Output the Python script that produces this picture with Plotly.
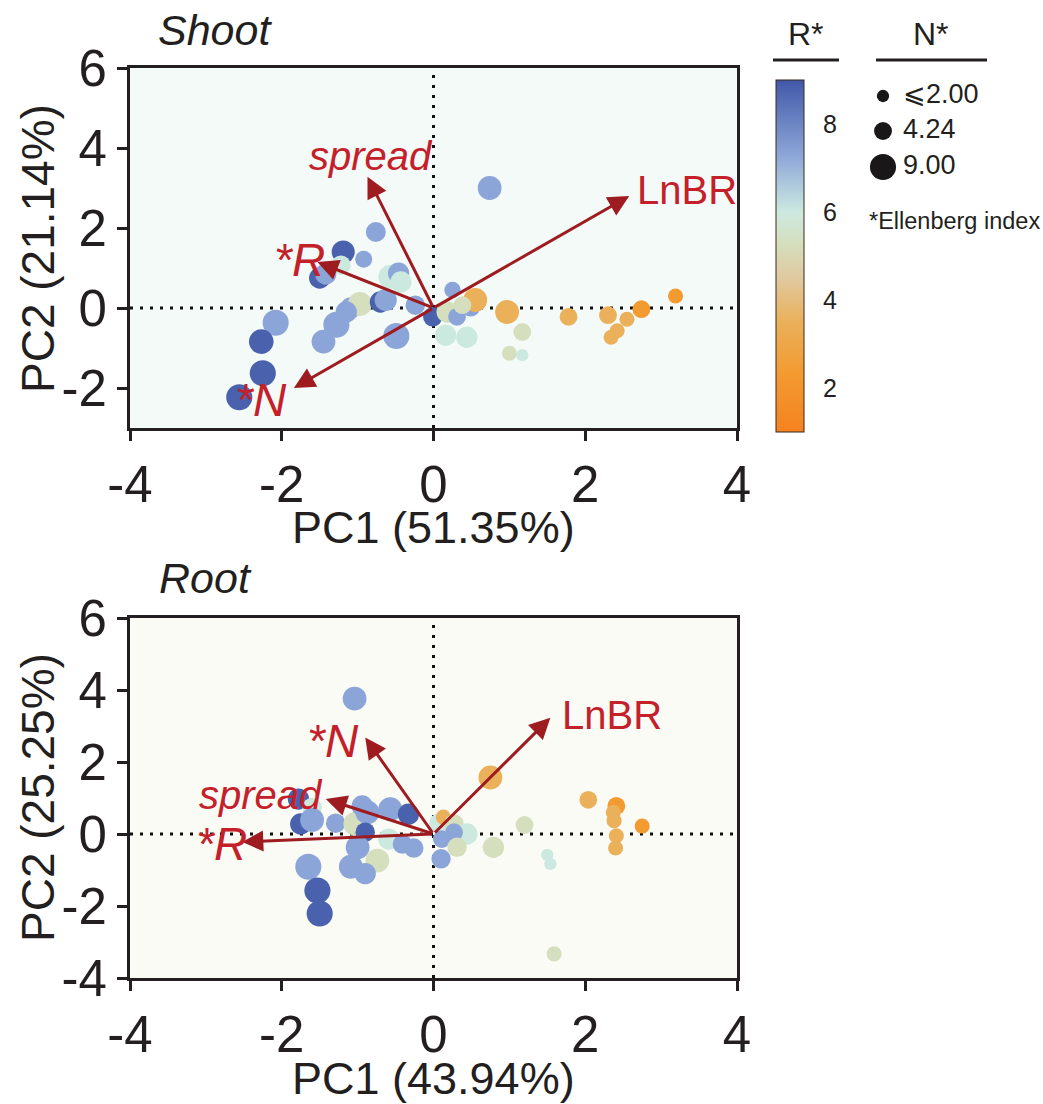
import numpy as np
import plotly.graph_objects as go

# ---------------- data ----------------
# Shoot PCA scores
shoot_pc1 = [-0.76, -1.19, -0.92, -1.22, -1.50, -1.42, -0.57, -0.46, -0.43, -1.09, -0.97,
             -0.70, -0.63, -0.24, -0.01, -2.08, -2.27, -2.25, -2.56, -1.28, -1.45, -0.49,
             -1.15, 0.16, 0.18, 0.25, 0.74, 0.49, 0.55, 0.31, 0.38, 0.44, 0.97, 1.17,
             1.00, 1.17, 1.78, 2.30, 2.55, 2.42, 2.34, 2.74, 3.19]
shoot_pc2 = [1.90, 1.40, 1.22, 1.07, 0.75, 0.85, 0.78, 0.87, 0.65, 0.00, 0.10,
             0.15, 0.20, 0.07, -0.22, -0.37, -0.84, -1.63, -2.23, -0.42, -0.84, -0.70,
             -0.10, -0.68, -0.10, 0.45, 3.00, 0.03, 0.20, -0.22, 0.07, -0.73, -0.10, -0.60,
             -1.13, -1.18, -0.22, -0.18, -0.28, -0.57, -0.73, -0.03, 0.30]
shoot_R = [7.3, 8.8, 7.3, 6.0, 8.8, 7.3, 6.0, 7.3, 6.0, 7.3, 5.3,
           8.8, 7.3, 7.3, 8.8, 7.3, 8.8, 8.8, 8.8, 7.3, 7.3, 7.3,
           7.3, 6.0, 5.3, 7.3, 7.3, 7.3, 3.5, 7.3, 5.3, 6.0, 3.5, 5.3,
           5.3, 6.0, 3.5, 3.5, 3.5, 3.5, 3.5, 2.3, 2.3]
shoot_N = [5.3, 7.0, 3.8, 5.0, 6.0, 6.0, 7.5, 6.0, 6.0, 6.0, 7.5,
           6.0, 6.5, 5.0, 5.0, 9.0, 8.0, 9.0, 9.0, 9.0, 7.5, 9.0,
           6.0, 6.0, 6.0, 3.5, 7.5, 5.0, 7.5, 4.2, 4.2, 6.0, 7.5, 4.2,
           3.0, 2.0, 4.2, 4.2, 3.0, 3.0, 3.0, 4.2, 3.0]

# Root PCA scores
root_pc1 = [-1.04, -1.78, -1.60, -1.75, -1.60, -1.29, -1.03, -0.94, -0.87, -0.90, -0.57,
            -0.33, -0.59, -1.00, -0.26, -0.74, -1.09, -0.90, -1.65, -1.53, -1.50, -0.41,
            0.10, 0.07, 0.13, 0.27, 0.44, 0.27, 0.11, 0.31, 0.79, 1.20, 1.50, 1.54,
            1.59, 0.75, 2.04, 2.41, 2.37, 2.38, 2.41, 2.40, 2.75]
root_pc2 = [3.76, 0.97, 0.74, 0.28, 0.39, 0.30, 0.28, 0.78, 0.60, 0.05, 0.69,
            0.55, -0.14, -0.37, -0.39, -0.74, -0.91, -1.10, -0.91, -1.57, -2.21, -0.28,
            -0.69, 0.30, 0.47, 0.28, 0.00, 0.05, -0.14, -0.37, -0.37, 0.25, -0.58, -0.83,
            -3.33, 1.57, 0.95, 0.78, 0.60, 0.37, -0.05, -0.39, 0.22]
root_R = [7.3, 8.8, 6.0, 8.8, 7.3, 7.3, 5.3, 7.3, 7.3, 8.8, 7.3,
          8.8, 6.0, 7.3, 7.3, 5.3, 7.3, 7.3, 7.3, 8.8, 8.8, 7.3,
          7.3, 6.0, 3.5, 5.3, 6.0, 7.3, 7.3, 5.3, 5.3, 5.3, 6.0, 6.0,
          5.3, 3.5, 3.5, 2.3, 3.5, 3.5, 3.5, 3.5, 2.3]
root_N = [7.5, 6.0, 5.0, 6.0, 7.5, 5.0, 7.5, 6.0, 7.5, 5.0, 7.5,
          6.0, 6.0, 7.5, 5.0, 7.5, 7.5, 6.0, 9.0, 9.0, 9.0, 5.0,
          5.0, 5.0, 3.0, 5.0, 6.0, 4.2, 4.2, 5.0, 6.0, 4.2, 2.0, 2.0,
          3.0, 7.5, 4.2, 4.2, 3.0, 3.0, 3.0, 3.0, 3.0]

# Loadings (arrow tips) and labels
shoot_vars = ["spread", "*R", "*N", "LnBR"]
shoot_load_x = [-0.87, -1.53, -1.84, 2.58]
shoot_load_y = [3.28, 1.15, -2.00, 2.80]
shoot_lab_x = [-0.83, -1.77, -2.27, 3.34]
shoot_lab_y = [3.80, 1.20, -2.30, 2.95]

root_vars = ["*N", "spread", "*R", "LnBR"]
root_load_x = [-0.90, -1.42, -2.52, 1.54]
root_load_y = [2.68, 0.97, -0.22, 3.23]
root_lab_x = [-1.33, -2.27, -2.80, 2.35]
root_lab_y = [2.57, 1.08, -0.28, 3.31]

shoot_axis_titles = ["PC1 (51.35%)", "PC2 (21.14%)"]
root_axis_titles = ["PC1 (43.94%)", "PC2 (25.25%)"]
xticks = [-4, -2, 0, 2, 4]
shoot_yticks = [-2, 0, 2, 4, 6]
root_yticks = [-4, -2, 0, 2, 4, 6]
cbar_ticks = [2, 4, 6, 8]
size_legend_vals = [2.00, 4.24, 9.00]
size_legend_text = ["⩽2.00", "4.24", "9.00"]

# ---------------- styling ----------------
FONT = "Liberation Sans, Arial, sans-serif"
INK = "#231F20"
ARROW = "#9E1B20"
LABEL = "#C4202A"
W, H = 1043, 1104
CMIN, CMAX = 1, 9

def diam(n):
    return 8.7 * np.sqrt(np.maximum(np.asarray(n, dtype=float), 2.0))

def tick_text(vals):
    return [str(v) for v in vals]  # plain hyphen-minus as in the reference

colorscale = [
    [0.0, "#F5821F"],
    [(2.3 - 1) / 8, "#F39A30"],
    [(3.5 - 1) / 8, "#EAB05A"],
    [(4.5 - 1) / 8, "#E0C9A0"],
    [(5.3 - 1) / 8, "#D5DFBE"],
    [(6.0 - 1) / 8, "#CCE9E0"],
    [(7.3 - 1) / 8, "#8BA5D8"],
    [(8.8 - 1) / 8, "#4A62AE"],
    [1.0, "#3F56A6"],
]

fig = go.Figure()

fig.add_trace(go.Scatter(
    x=shoot_pc1, y=shoot_pc2, mode="markers", xaxis="x", yaxis="y",
    marker=dict(color=shoot_R, coloraxis="coloraxis", size=diam(shoot_N).tolist(), opacity=1,
                line=dict(width=0)),
    showlegend=False, hoverinfo="skip"))
fig.add_trace(go.Scatter(
    x=root_pc1, y=root_pc2, mode="markers", xaxis="x2", yaxis="y2",
    marker=dict(color=root_R, coloraxis="coloraxis", size=diam(root_N).tolist(), opacity=1,
                line=dict(width=0)),
    showlegend=False, hoverinfo="skip"))

# size legend on a pixel-space overlay axis
leg_px_x = [883, 883, 883]
leg_px_y = [96, 131, 167]
fig.add_trace(go.Scatter(
    x=leg_px_x, y=leg_px_y, mode="markers", xaxis="x3", yaxis="y3",
    marker=dict(color="#1a1718", size=diam(size_legend_vals).tolist(), opacity=1,
                line=dict(width=0)),
    showlegend=False, hoverinfo="skip"))
fig.add_trace(go.Scatter(
    x=[903, 903, 903], y=leg_px_y, mode="text", xaxis="x3", yaxis="y3",
    text=size_legend_text, textposition="middle right",
    textfont=dict(family=FONT, size=27, color=INK),
    showlegend=False, hoverinfo="skip"))

# domains (pixel based)
x_dom = [130 / W, 737 / W]
top_dom = [1 - 428 / H, 1 - 68 / H]
bot_dom = [1 - 978 / H, 1 - 618 / H]

axis_common = dict(
    showline=True, linewidth=3, linecolor=INK, mirror=True,
    ticks="outside", ticklen=10, tickwidth=3, tickcolor=INK,
    showgrid=False, zeroline=False, automargin=False,
    tickfont=dict(family=FONT, size=51, color=INK),
)

CB_X0, CB_X1 = 776, 804
CB_TOP, CB_BOT = 80, 432

fig.update_layout(
    width=W, height=H, autosize=False,
    margin=dict(l=0, r=0, t=0, b=0, pad=0),
    paper_bgcolor="white",
    plot_bgcolor="rgba(0,0,0,0)",
    font=dict(family=FONT, color=INK),
    xaxis=dict(domain=x_dom, range=[-4, 4], tickvals=xticks, ticktext=tick_text(xticks),
               anchor="y", **axis_common),
    yaxis=dict(domain=top_dom, range=[-3, 6], tickvals=shoot_yticks, ticktext=tick_text(shoot_yticks),
               anchor="x", **axis_common),
    xaxis2=dict(domain=x_dom, range=[-4, 4], tickvals=xticks, ticktext=tick_text(xticks),
                anchor="y2", **axis_common),
    yaxis2=dict(domain=bot_dom, range=[-4, 6], tickvals=root_yticks, ticktext=tick_text(root_yticks),
                anchor="x2", **axis_common),
    xaxis3=dict(domain=[0, 1], range=[0, W], visible=False, fixedrange=True, anchor="y3",
                automargin=False),
    yaxis3=dict(domain=[0, 1], range=[H, 0], visible=False, fixedrange=True, anchor="x3",
                automargin=False),
    coloraxis=dict(
        cmin=CMIN, cmax=CMAX, colorscale=colorscale,
        colorbar=dict(
            x=CB_X0 / W, xanchor="left", xpad=0, ypad=0,
            y=1 - (CB_TOP + CB_BOT) / 2 / H, yanchor="middle",
            len=CB_BOT - CB_TOP, lenmode="pixels", thickness=CB_X1 - CB_X0,
            outlinewidth=1, outlinecolor="#3a2a1a",
            tickvals=cbar_ticks, ticks="outside", ticklen=14, tickwidth=1,
            tickcolor="rgba(0,0,0,0)",
            tickfont=dict(family=FONT, size=25, color=INK),
        ),
    ),
    showlegend=False,
)

# plot backgrounds via shapes
shapes = []
shapes.append(dict(type="rect", xref="paper", yref="paper", x0=x_dom[0], x1=x_dom[1],
                   y0=top_dom[0], y1=top_dom[1],
                   fillcolor="#F4FAF8", line=dict(width=0), layer="below"))
shapes.append(dict(type="rect", xref="paper", yref="paper", x0=x_dom[0], x1=x_dom[1],
                   y0=bot_dom[0], y1=bot_dom[1],
                   fillcolor="#FAFBF5", line=dict(width=0), layer="below"))
dot = dict(color="#111111", width=3, dash="3px,7px")
for xr, yr, rng in (("x", "y", [-3, 6]), ("x2", "y2", [-4, 6])):
    shapes.append(dict(type="line", xref=xr, yref=yr, x0=0, x1=0, y0=rng[0], y1=rng[1],
                       line=dot, layer="below"))
    shapes.append(dict(type="line", xref=xr, yref=yr, x0=-4, x1=4, y0=0, y1=0,
                       line=dot, layer="below"))
# small inside tick marks on both edges of the colour bar
for v in cbar_ticks:
    py = CB_BOT - (v - CMIN) / (CMAX - CMIN) * (CB_BOT - CB_TOP)
    for xa, xb in ((CB_X0, CB_X0 + 4), (CB_X1 - 4, CB_X1)):
        shapes.append(dict(type="line", xref="paper", yref="paper", x0=xa / W, x1=xb / W,
                           y0=1 - py / H, y1=1 - py / H, line=dict(color=INK, width=1.5)))
# legend header underlines
shapes.append(dict(type="line", xref="paper", yref="paper", x0=773 / W, x1=839 / W,
                   y0=1 - 60 / H, y1=1 - 60 / H, line=dict(color=INK, width=3)))
shapes.append(dict(type="line", xref="paper", yref="paper", x0=876 / W, x1=987 / W,
                   y0=1 - 60 / H, y1=1 - 60 / H, line=dict(color=INK, width=3)))
fig.update_layout(shapes=shapes)

ann = []
# arrows
for (xr, yr, lx, ly) in (("x", "y", shoot_load_x, shoot_load_y), ("x2", "y2", root_load_x, root_load_y)):
    for tx, ty in zip(lx, ly):
        ann.append(dict(x=tx, y=ty, ax=0, ay=0, xref=xr, yref=yr, axref=xr, ayref=yr,
                        text="", showarrow=True, arrowhead=2, arrowsize=1.4, arrowwidth=3,
                        arrowcolor=ARROW, standoff=0, startstandoff=0))
# arrow labels
def lab_font(name):
    if name in ("*R", "*N"):
        return dict(family=FONT, size=46, color=LABEL)
    return dict(family=FONT, size=40, color=LABEL)

for (xr, yr, names, lx, ly) in (("x", "y", shoot_vars, shoot_lab_x, shoot_lab_y),
                                ("x2", "y2", root_vars, root_lab_x, root_lab_y)):
    for nm, tx, ty in zip(names, lx, ly):
        txt = nm if nm == "LnBR" else "<i>" + nm + "</i>"
        ann.append(dict(x=tx, y=ty, xref=xr, yref=yr, text=txt, showarrow=False,
                        font=lab_font(nm), xanchor="center", yanchor="middle"))

def paper_text(px, py, text, size, angle=0, xanchor="center"):
    return dict(x=px / W, y=1 - py / H, xref="paper", yref="paper", text=text,
                showarrow=False, textangle=angle, xanchor=xanchor, yanchor="middle",
                font=dict(family=FONT, size=size, color=INK))

# panel titles
ann.append(paper_text(215, 30, "<i>Shoot</i>", 43))
ann.append(paper_text(205, 578, "<i>Root</i>", 43))
# axis titles
ann.append(paper_text(433, 527, shoot_axis_titles[0], 45))
ann.append(paper_text(38, 249, shoot_axis_titles[1], 46, angle=-90))
ann.append(paper_text(433, 1078, root_axis_titles[0], 45))
ann.append(paper_text(38, 798, root_axis_titles[1], 46, angle=-90))
# legend headers
ann.append(paper_text(806, 34, "R*", 32))
ann.append(paper_text(931, 34, "N*", 32))
ann.append(paper_text(867, 221, "*Ellenberg index", 23.5, xanchor="left"))
fig.update_layout(annotations=ann)

fig.write_html("out.html")
